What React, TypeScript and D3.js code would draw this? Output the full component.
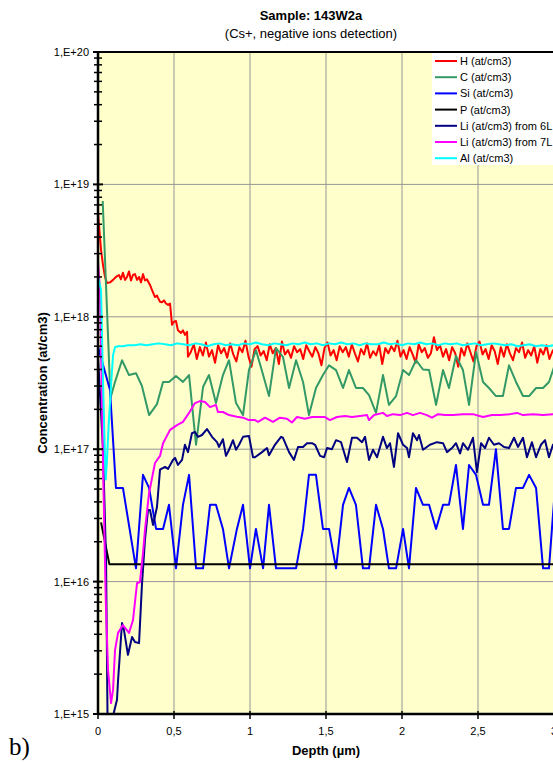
import React from "react";
import * as d3 from "d3";

type P = [number, number];

const title = "Sample: 143W2a";
const subtitle = "(Cs+, negative ions detection)";
const xLabel = "Depth (µm)";
const yLabel = "Concentration (at/cm3)";
const xTicks = [0, 0.5, 1, 1.5, 2, 2.5, 3, 3.5];
const xTickLabels = ["0", "0,5", "1", "1,5", "2", "2,5", "3", "3,5"];
const yTicks = [1e15, 1e16, 1e17, 1e18, 1e19, 1e20];
const yTickLabels = ["1,E+15", "1,E+16", "1,E+17", "1,E+18", "1,E+19", "1,E+20"];

const H: P[] = [
  [0, 6.1e18], [0.02, 3.2e18], [0.033, 2.46e18], [0.046, 2.0e18], [0.059, 1.8e18], [0.079, 1.82e18],
  [0.099, 1.9e18], [0.118, 2.0e18], [0.138, 2.07e18], [0.151, 1.92e18], [0.164, 2.15e18], [0.178, 1.9e18],
  [0.191, 2.0e18], [0.204, 2.2e18], [0.217, 1.88e18], [0.23, 2.07e18], [0.243, 2.1e18], [0.257, 1.9e18],
  [0.27, 2.0e18], [0.283, 1.82e18], [0.296, 2.1e18], [0.309, 1.88e18], [0.322, 1.92e18], [0.342, 1.74e18],
  [0.355, 1.6e18], [0.375, 1.41e18], [0.388, 1.45e18], [0.395, 1.39e18], [0.408, 1.3e18], [0.421, 1.29e18],
  [0.434, 1.33e18], [0.447, 1.26e18], [0.461, 1.23e18], [0.474, 1.26e18], [0.487, 8.7e17], [0.5, 9.2e17],
  [0.513, 9.3e17], [0.526, 7.9e17], [0.546, 7.55e17], [0.559, 7.9e17], [0.572, 7.3e17], [0.586, 7.7e17],
  [0.592, 5.0e17],
  [0.61, 5.4e17], [0.63, 6.2e17], [0.65, 4.8e17], [0.67, 5.9e17], [0.69, 5.1e17], [0.71, 6.4e17],
  [0.73, 5.0e17], [0.75, 5.6e17], [0.77, 4.5e17], [0.79, 6.1e17], [0.81, 5.3e17], [0.83, 5.8e17],
  [0.85, 4.9e17], [0.87, 6.3e17], [0.89, 5.2e17], [0.91, 4.6e17], [0.93, 5.9e17], [0.95, 5.4e17],
  [0.97, 6.6e17], [0.99, 5.0e17], [1.01, 4.2e17], [1.03, 5.7e17], [1.05, 6.0e17], [1.07, 5.1e17],
  [1.09, 5.5e17], [1.11, 4.7e17], [1.13, 6.2e17], [1.15, 5.3e17], [1.17, 5.8e17], [1.19, 4.4e17],
  [1.21, 6.5e17], [1.23, 5.2e17], [1.25, 5.6e17], [1.27, 4.9e17], [1.29, 6.0e17], [1.31, 5.4e17],
  [1.33, 5.7e17], [1.35, 4.8e17], [1.37, 6.1e17], [1.39, 5.5e17], [1.41, 5.0e17], [1.43, 5.9e17],
  [1.45, 5.3e17], [1.47, 4.3e17], [1.49, 5.8e17], [1.51, 6.4e17], [1.53, 5.1e17], [1.55, 5.6e17],
  [1.57, 4.7e17], [1.59, 6.0e17], [1.61, 5.4e17], [1.63, 5.9e17], [1.65, 5.0e17], [1.67, 6.2e17],
  [1.69, 5.3e17], [1.71, 4.6e17], [1.73, 5.7e17], [1.75, 5.2e17], [1.77, 6.3e17], [1.79, 4.9e17],
  [1.81, 5.5e17], [1.83, 5.1e17], [1.85, 6.1e17], [1.87, 4.4e17], [1.89, 5.8e17], [1.91, 5.3e17],
  [1.93, 6.0e17], [1.95, 5.5e17], [1.97, 6.6e17], [1.99, 5.0e17], [2.01, 5.6e17], [2.03, 4.8e17],
  [2.05, 5.9e17], [2.07, 5.2e17], [2.09, 4.5e17], [2.11, 6.2e17], [2.13, 5.4e17], [2.15, 5.8e17],
  [2.17, 4.9e17], [2.19, 5.3e17], [2.21, 7.0e17], [2.23, 5.6e17], [2.25, 6.1e17], [2.27, 5.0e17],
  [2.29, 5.7e17], [2.31, 4.7e17], [2.33, 5.9e17], [2.35, 5.3e17], [2.37, 4.2e17], [2.39, 5.8e17],
  [2.41, 5.1e17], [2.43, 6.3e17], [2.45, 5.4e17], [2.47, 4.6e17], [2.49, 6.0e17], [2.51, 6.5e17],
  [2.53, 5.2e17], [2.55, 5.7e17], [2.57, 4.8e17], [2.59, 6.1e17], [2.61, 5.5e17], [2.63, 4.4e17],
  [2.65, 5.9e17], [2.67, 5.0e17], [2.69, 6.2e17], [2.71, 5.3e17], [2.73, 4.7e17], [2.75, 5.8e17],
  [2.77, 5.4e17], [2.79, 6.4e17], [2.81, 4.9e17], [2.83, 5.6e17], [2.85, 5.1e17], [2.87, 6.0e17],
  [2.89, 4.5e17], [2.91, 5.7e17], [2.93, 5.2e17], [2.95, 6.1e17], [2.97, 4.8e17], [2.99, 5.5e17],
  [3.01, 5.9e17], [3.03, 5.0e17], [3.05, 5.6e17],
];

const C: P[] = [
  [0.031, 7.5e18], [0.082, 2.44e17], [0.112, 3.22e17], [0.158, 4.7e17], [0.204, 3.63e17], [0.25, 3.75e17],
  [0.289, 3.0e17], [0.336, 1.81e17], [0.388, 2.19e17], [0.428, 3.22e17], [0.467, 3.22e17], [0.513, 3.57e17],
  [0.559, 3.22e17], [0.599, 3.63e17], [0.645, 1.08e17], [0.691, 2.95e17], [0.73, 3.63e17], [0.776, 2.23e17],
  [0.822, 3.63e17], [0.862, 4.7e17], [0.908, 2.23e17], [0.954, 1.81e17], [0.993, 3.96e17], [1.039, 5.6e17],
  [1.079, 3.9e17], [1.125, 2.52e17], [1.171, 5.8e17], [1.217, 4.97e17], [1.257, 2.9e17], [1.303, 4.7e17],
  [1.349, 3.22e17], [1.388, 1.81e17], [1.434, 2.9e17], [1.48, 3.63e17], [1.52, 4.3e17], [1.566, 3.96e17],
  [1.612, 2.9e17], [1.651, 3.96e17], [1.697, 2.9e17], [1.743, 2.9e17], [1.783, 2.56e17], [1.829, 1.88e17],
  [1.875, 3.63e17], [1.914, 2.16e17], [1.961, 2.52e17], [2.007, 3.96e17], [2.046, 3.63e17], [2.092, 4.7e17],
  [2.138, 4.0e17], [2.178, 3.96e17], [2.224, 2.16e17], [2.27, 3.96e17], [2.309, 2.9e17], [2.355, 5.06e17],
  [2.401, 3.96e17], [2.441, 2.16e17], [2.487, 5.42e17], [2.533, 3.22e17], [2.572, 2.9e17], [2.618, 2.52e17],
  [2.664, 2.52e17], [2.704, 4.3e17], [2.75, 3.22e17], [2.796, 2.52e17], [2.836, 2.52e17], [2.882, 2.9e17],
  [2.928, 2.9e17], [2.967, 3.22e17], [3.013, 4.6e17], [3.06, 3.5e17],
];

const Si: P[] = [
  [0, 5.95e17], [0.079, 2.8e17], [0.118, 5.1e16], [0.164, 5.1e16], [0.25, 1.26e16], [0.296, 6.4e16],
  [0.336, 5.1e16], [0.382, 2.5e16], [0.428, 2.5e16], [0.467, 3.8e16], [0.513, 1.26e16], [0.559, 3.8e16],
  [0.599, 6.4e16], [0.645, 1.26e16], [0.691, 1.26e16], [0.737, 3.8e16], [0.776, 3.8e16], [0.822, 2.5e16],
  [0.862, 1.26e16], [0.914, 2.5e16], [0.954, 3.8e16], [1.0, 1.26e16], [1.039, 2.5e16], [1.086, 1.26e16],
  [1.125, 3.8e16], [1.171, 1.26e16], [1.217, 1.26e16], [1.257, 1.26e16], [1.303, 1.26e16], [1.349, 2.5e16],
  [1.388, 6.4e16], [1.434, 6.4e16], [1.48, 2.5e16], [1.52, 2.5e16], [1.566, 1.26e16], [1.612, 3.8e16],
  [1.651, 5.1e16], [1.697, 3.8e16], [1.743, 1.26e16], [1.783, 1.26e16], [1.829, 3.8e16], [1.875, 2.5e16],
  [1.914, 1.26e16], [1.961, 1.26e16], [2.007, 2.5e16], [2.046, 1.26e16], [2.092, 5.1e16], [2.138, 3.8e16],
  [2.178, 3.8e16], [2.224, 2.5e16], [2.27, 3.8e16], [2.309, 3.8e16], [2.355, 7.6e16], [2.401, 2.5e16],
  [2.441, 7.6e16], [2.487, 6.4e16], [2.533, 3.8e16], [2.572, 3.8e16], [2.618, 1.0e17], [2.664, 2.5e16],
  [2.704, 2.5e16], [2.75, 5.1e16], [2.796, 5.1e16], [2.836, 6.4e16], [2.882, 5.1e16], [2.928, 1.26e16],
  [2.967, 1.26e16], [3.013, 6.4e16], [3.06, 3.8e16],
];

const Pser: P[] = [[0.02, 2.8e16], [0.075, 1.35e16], [3.1, 1.35e16]];

const Li6: P[] = [
  [0, 5.0e17], [0.033, 9.9e16], [0.053, 1.46e16], [0.0625, 1.0e15], [0.069, 4e14], [0.092, 4e14],
  [0.102, 1.0e15], [0.125, 1.28e15], [0.132, 1.8e15], [0.158, 4.87e15], [0.171, 4.3e15], [0.197, 2.8e15],
  [0.224, 3.82e15], [0.243, 3.5e15], [0.27, 3.43e15], [0.289, 9.4e15], [0.309, 2.06e16], [0.329, 3.48e16],
  [0.342, 3.48e16], [0.362, 2.68e16], [0.388, 3.66e16], [0.408, 7.0e16], [0.441, 7.35e16], [0.461, 7.1e16],
  [0.493, 8.3e16], [0.507, 8.6e16], [0.526, 7.6e16], [0.553, 8.3e16], [0.572, 1.08e17], [0.592, 9.5e16],
  [0.618, 1.32e17], [0.638, 1.35e17], [0.658, 1.24e17], [0.684, 1.28e17], [0.717, 1.42e17], [0.75, 1.24e17],
  [0.783, 1.13e17], [0.796, 1.04e17], [0.822, 1.19e17], [0.842, 8.9e16], [0.862, 9.9e16], [0.888, 1.17e17],
  [0.908, 9.9e16], [0.928, 1.08e17], [0.954, 1.24e17], [0.993, 1.26e17], [1.02, 8.7e16], [1.033, 8.7e16],
  [1.079, 9.5e16], [1.112, 1.02e17], [1.125, 9.0e16], [1.164, 1.08e17], [1.204, 1.24e17], [1.217, 1.22e17],
  [1.257, 9.5e16], [1.289, 8.3e16], [1.316, 1.04e17], [1.349, 1.04e17], [1.375, 1.11e17], [1.408, 1.11e17],
  [1.428, 1.08e17], [1.461, 8.9e16], [1.487, 8.7e16], [1.507, 1.02e17], [1.539, 1.0e17], [1.566, 1.17e17],
  [1.599, 1.13e17], [1.638, 8.0e16], [1.671, 1.22e17], [1.704, 1.22e17], [1.737, 1.13e17], [1.757, 1.24e17],
  [1.783, 8.3e16], [1.809, 9.9e16], [1.836, 8.7e16], [1.875, 1.24e17], [1.901, 1.02e17], [1.921, 1.11e17],
  [1.947, 7.35e16], [1.974, 1.32e17], [2.007, 1.08e17], [2.033, 1.02e17], [2.046, 8.7e16], [2.072, 1.32e17],
  [2.099, 1.17e17], [2.112, 1.28e17], [2.138, 9.9e16], [2.184, 1.08e17], [2.23, 1.13e17], [2.27, 1.11e17],
  [2.296, 9.5e16], [2.329, 1.02e17], [2.355, 1.11e17], [2.382, 9.3e16], [2.401, 1.11e17], [2.434, 9.9e16],
  [2.467, 1.22e17], [2.493, 6.7e16], [2.52, 1.11e17], [2.546, 1.02e17], [2.572, 1.22e17], [2.605, 1.08e17],
  [2.638, 1.11e17], [2.671, 1.04e17], [2.704, 1.02e17], [2.737, 1.22e17], [2.763, 1.04e17], [2.796, 1.22e17],
  [2.822, 8.7e16], [2.855, 1.13e17], [2.882, 8.7e16], [2.914, 1.08e17], [2.941, 1.17e17], [2.967, 8.7e16],
  [2.993, 1.08e17], [3.03, 1.17e17],
];

const Li7: P[] = [
  [0, 2.6e18], [0.013, 1.6e18], [0.026, 2.36e17], [0.035, 5.85e16], [0.051, 7.3e15], [0.066, 2.15e15],
  [0.086, 1.21e15], [0.099, 1.52e15], [0.112, 3.04e15], [0.132, 4.1e15], [0.164, 4.7e15], [0.204, 4.1e15],
  [0.23, 5.1e15], [0.257, 9.75e15], [0.276, 9.9e15], [0.296, 1.64e16], [0.309, 2.45e16], [0.336, 4.67e16],
  [0.375, 7.87e16], [0.408, 8.9e16], [0.428, 1.11e17], [0.474, 1.4e17], [0.52, 1.52e17], [0.559, 1.61e17],
  [0.599, 1.88e17], [0.638, 2.23e17], [0.671, 2.31e17], [0.704, 2.27e17], [0.737, 2.08e17], [0.776, 2.16e17],
  [0.789, 1.91e17], [0.822, 1.91e17], [0.862, 1.81e17], [0.914, 1.76e17], [0.954, 1.73e17], [0.993, 1.66e17],
  [1.033, 1.66e17], [1.053, 1.61e17], [1.099, 1.73e17], [1.151, 1.61e17], [1.197, 1.73e17], [1.243, 1.7e17],
  [1.276, 1.59e17], [1.309, 1.75e17], [1.362, 1.7e17], [1.408, 1.75e17], [1.447, 1.75e17], [1.493, 1.75e17],
  [1.526, 1.66e17], [1.572, 1.75e17], [1.625, 1.78e17], [1.671, 1.75e17], [1.724, 1.78e17], [1.77, 1.81e17],
  [1.783, 1.66e17], [1.816, 1.81e17], [1.875, 1.88e17], [1.901, 1.78e17], [1.941, 1.84e17], [1.987, 1.81e17],
  [2.033, 1.88e17], [2.072, 1.81e17], [2.118, 1.88e17], [2.164, 1.81e17], [2.197, 1.73e17], [2.237, 1.84e17],
  [2.283, 1.81e17], [2.336, 1.81e17], [2.401, 1.84e17], [2.467, 1.84e17], [2.533, 1.75e17], [2.592, 1.81e17],
  [2.645, 1.81e17], [2.711, 1.84e17], [2.757, 1.88e17], [2.796, 1.81e17], [2.862, 1.84e17], [2.928, 1.81e17],
  [2.993, 1.84e17], [3.05, 1.81e17],
];

const Al: P[] = [
  [0, 2.0e18], [0.02, 1.6e18], [0.033, 3.3e17], [0.043, 1.17e17], [0.051, 5.9e16], [0.059, 8.3e16],
  [0.072, 1.66e17], [0.086, 3.05e17], [0.099, 5.15e17], [0.112, 5.9e17], [0.132, 6.0e17],
  [0.16, 6.0e17], [0.2, 6.1e17], [0.24, 6.1e17], [0.28, 6.2e17], [0.32, 6.1e17], [0.36, 6.2e17],
  [0.4, 6.3e17], [0.44, 6.2e17], [0.48, 6.1e17], [0.52, 6.3e17], [0.56, 6.2e17], [0.6, 6.1e17],
  [0.64, 6.3e17], [0.68, 6.2e17], [0.72, 6.0e17], [0.76, 6.2e17], [0.8, 6.3e17], [0.84, 6.1e17],
  [0.88, 6.2e17], [0.92, 6.1e17], [0.96, 6.3e17], [1.0, 6.2e17], [1.04, 6.4e17], [1.08, 6.2e17],
  [1.12, 6.1e17], [1.16, 6.3e17], [1.2, 6.2e17], [1.24, 6.1e17], [1.28, 6.3e17], [1.32, 6.2e17],
  [1.36, 6.4e17], [1.4, 6.2e17], [1.44, 6.3e17], [1.48, 6.1e17], [1.52, 6.3e17], [1.56, 6.2e17],
  [1.6, 6.4e17], [1.64, 6.2e17], [1.68, 6.3e17], [1.72, 6.1e17], [1.76, 6.3e17], [1.8, 6.2e17],
  [1.84, 6.2e17], [1.88, 6.4e17], [1.92, 6.2e17], [1.96, 6.3e17], [2.0, 6.1e17], [2.04, 6.3e17],
  [2.08, 6.2e17], [2.12, 6.4e17], [2.16, 6.2e17], [2.2, 6.3e17], [2.24, 6.1e17], [2.28, 6.3e17],
  [2.32, 6.2e17], [2.36, 6.3e17], [2.4, 6.1e17], [2.44, 6.2e17], [2.48, 6.3e17], [2.52, 6.1e17],
  [2.56, 6.2e17], [2.6, 6.3e17], [2.64, 6.2e17], [2.68, 6.1e17], [2.72, 6.2e17], [2.76, 6.0e17],
  [2.8, 6.1e17], [2.84, 6.2e17], [2.88, 6.0e17], [2.92, 6.1e17], [2.96, 6.0e17], [3.0, 6.1e17],
  [3.04, 6.0e17],
];

const seriesNames = [
  "H (at/cm3)", "C (at/cm3)", "Si (at/cm3)", "P (at/cm3)",
  "Li (at/cm3) from 6L", "Li (at/cm3) from 7L", "Al (at/cm3)",
];
const seriesData: P[][] = [H, C, Si, Pser, Li6, Li7, Al];
const seriesColors = ["#FF0000", "#339966", "#0000FF", "#000000", "#000080", "#FF00FF", "#00FFFF"];

const W = 553;
const Hh = 762;
const left = 98;
const top = 52;
const bottom = 714;
const right = 98 + 3.5 * 152;

export default function App() {
  const x = d3.scaleLinear().domain([0, 3.5]).range([left, right]);
  const y = d3.scaleLog().domain([1e15, 1e20]).range([bottom, top]);
  const line = d3
    .line<P>()
    .x((d) => x(d[0]))
    .y((d) => y(d[1]));

  const minorTicks: number[] = [];
  for (let e = 15; e < 20; e++) {
    for (let k = 2; k <= 9; k++) minorTicks.push(k * Math.pow(10, e));
  }
  const font = "'Liberation Sans', Arial, sans-serif";
  const legendX = 432;
  const legendRowY = (i: number) => 61 + i * 16.2;

  return (
    <svg
      width={W}
      height={Hh}
      style={{ position: "absolute", left: 0, top: 0, display: "block", background: "#fff" }}
      fontFamily={font}
    >
      <defs>
        <clipPath id="plotClip">
          <rect x={left} y={top} width={right - left} height={bottom - top} />
        </clipPath>
      </defs>
      <rect x={left} y={top} width={right - left} height={bottom - top} fill="#FFFFCC" />
      {xTicks.filter((t) => t > 0).map((t) => (
        <line key={"gx" + t} x1={x(t)} x2={x(t)} y1={top} y2={bottom} stroke="#969696" strokeWidth={1} />
      ))}
      {yTicks.filter((t) => t > 1e15 && t < 1e20).map((t) => (
        <line key={"gy" + t} x1={left} x2={right} y1={y(t)} y2={y(t)} stroke="#969696" strokeWidth={1} />
      ))}
      <g clipPath="url(#plotClip)">
        {seriesData.map((s, i) => (
          <path
            key={"s" + i}
            d={line(s) || ""}
            fill="none"
            stroke={seriesColors[i]}
            strokeWidth={2}
            strokeLinejoin="round"
          />
        ))}
      </g>
      <line x1={left} x2={W} y1={top} y2={top} stroke="#000" strokeWidth={2} />
      <line x1={left} x2={left} y1={top} y2={bottom} stroke="#000" strokeWidth={2.5} />
      <line x1={left} x2={right} y1={bottom} y2={bottom} stroke="#000" strokeWidth={2.5} />
      {yTicks.map((t) => (
        <line key={"yt" + t} x1={left - 5} x2={left + 5} y1={y(t)} y2={y(t)} stroke="#000" strokeWidth={2} />
      ))}
      {minorTicks.map((t) => (
        <line key={"ym" + t} x1={left - 4} x2={left + 4} y1={y(t)} y2={y(t)} stroke="#000" strokeWidth={1.5} />
      ))}
      {yTicks.map((t, i) => (
        <text key={"yl" + t} x={89} y={y(t) + 4} fontSize={11} textAnchor="end" fill="#000">
          {yTickLabels[i]}
        </text>
      ))}
      {xTicks.map((t) => (
        <line key={"xt" + t} x1={x(t)} x2={x(t)} y1={bottom - 3} y2={bottom + 5} stroke="#000" strokeWidth={1.5} />
      ))}
      {xTicks.map((t, i) =>
        x(t) < W + 8 ? (
          <text key={"xl" + t} x={x(t)} y={735} fontSize={11} textAnchor="middle" fill="#000">
            {xTickLabels[i]}
          </text>
        ) : null
      )}
      <text x={311} y={20} fontSize={13} fontWeight="bold" textAnchor="middle">
        {title}
      </text>
      <text x={311} y={38} fontSize={13} textAnchor="middle">
        {subtitle}
      </text>
      <text x={326} y={755} fontSize={13} fontWeight="bold" textAnchor="middle">
        {xLabel}
      </text>
      <text
        transform={`translate(47, ${(top + bottom) / 2}) rotate(-90)`}
        fontSize={13}
        fontWeight="bold"
        textAnchor="middle"
      >
        {yLabel}
      </text>
      <text x={9} y={755} fontSize={25} fontFamily="'Liberation Serif', 'DejaVu Serif', serif">
        b)
      </text>
      <rect x={legendX} y={top + 1} width={W - legendX} height={112} fill="#fff" />
      {seriesNames.map((n, i) => (
        <g key={"lg" + i}>
          <line
            x1={legendX + 3}
            x2={legendX + 25}
            y1={legendRowY(i)}
            y2={legendRowY(i)}
            stroke={seriesColors[i]}
            strokeWidth={2}
          />
          <text x={legendX + 28} y={legendRowY(i) + 4} fontSize={11} fill="#000">
            {n}
          </text>
        </g>
      ))}
    </svg>
  );
}
